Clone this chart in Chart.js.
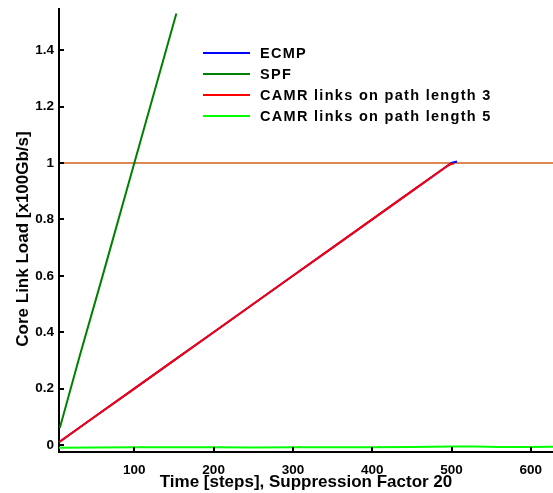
<!DOCTYPE html>
<html>
<head>
<meta charset="utf-8">
<script src="https://cdn.jsdelivr.net/npm/chart.js@4.4.1/dist/chart.umd.min.js"></script>
<style>
html, body { margin: 0; padding: 0; background: #fff; }
</style>
</head>
<body>
<canvas id="myChart" width="553" height="493"></canvas>
<script>
// tick values / labels
var xTicks = [100, 200, 300, 400, 500, 600];
var yTicks = [0, 0.2, 0.4, 0.6, 0.8, 1, 1.2, 1.4];
var yTickLabels = ['0', '0.2', '0.4', '0.6', '0.8', '1', '1.2', '1.4'];

// series
var ecmpX = [5, 50, 100, 150, 200, 250, 300, 350, 400, 450, 495, 500, 507];
var ecmpY = [0.01, 0.1, 0.2, 0.3, 0.4, 0.5, 0.6, 0.7, 0.8, 0.9, 0.99, 1.0, 1.005];

var spfX = [6, 31, 59, 100, 153];
var spfY = [0.06, 0.315, 0.59, 1.0, 1.53];

var camr3X = [5, 50, 100, 150, 200, 250, 300, 350, 400, 450, 495, 500, 503];
var camr3Y = [0.01, 0.1, 0.2, 0.3, 0.4, 0.5, 0.6, 0.7, 0.8, 0.9, 0.99, 0.997, 0.997];

var camr5X = [5, 50, 100, 150, 200, 250, 300, 350, 400, 450, 500, 530, 560, 600, 628];
var camr5Y = [-0.010, -0.009, -0.008, -0.008, -0.008, -0.009, -0.008, -0.008, -0.008, -0.007, -0.005, -0.005, -0.007, -0.007, -0.006];

var limitX = [5, 628];
var limitY = [1, 1];

var legendLabels = ['ECMP', 'SPF', 'CAMR links on path length 3', 'CAMR links on path length 5'];
var yTitle = 'Core Link Load [x100Gb/s]';
var xTitle = 'Time [steps], Suppression Factor 20';

function toPoints(xs, ys) {
	var pts = [];
	for (var i = 0; i < xs.length; i++) {
		pts.push({ x: xs[i], y: ys[i] });
	}
	return pts;
}

function makeDataset(label, xs, ys, color, order) {
	return {
		label: label,
		data: toPoints(xs, ys),
		borderColor: color,
		backgroundColor: color,
		borderWidth: 2,
		pointRadius: 0,
		tension: 0,
		fill: false,
		order: order
	};
}

// ticks pointing into the plot, like the original
var innerTicks = {
	id: 'innerTicks',
	afterDatasetsDraw: function (chart) {
		var ctx = chart.ctx;
		var xs = chart.scales.x;
		var ys = chart.scales.y;
		var area = chart.chartArea;
		ctx.save();
		ctx.strokeStyle = '#000';
		ctx.lineWidth = 2;
		ctx.beginPath();
		for (var i = 0; i < xs.ticks.length; i++) {
			var px = Math.round(xs.getPixelForValue(xs.ticks[i].value));
			ctx.moveTo(px, area.bottom);
			ctx.lineTo(px, area.bottom - 5);
		}
		for (var j = 0; j < ys.ticks.length; j++) {
			var py = Math.round(ys.getPixelForValue(ys.ticks[j].value));
			ctx.moveTo(area.left, py);
			ctx.lineTo(area.left + 5, py);
		}
		ctx.stroke();
		ctx.restore();
	}
};

// legend inside the plot area + rotated y title
var insideLegend = {
	id: 'insideLegend',
	afterDraw: function (chart) {
		var ctx = chart.ctx;
		ctx.save();
		ctx.font = 'bold 14.5px "Liberation Sans", Arial, sans-serif';
		ctx.letterSpacing = '1.3px';
		ctx.textBaseline = 'middle';
		ctx.fillStyle = '#000';
		var rowY = 53;
		for (var i = 0; i < legendLabels.length; i++) {
			var ds = chart.data.datasets[i];
			ctx.strokeStyle = ds.borderColor;
			ctx.lineWidth = 2;
			ctx.beginPath();
			ctx.moveTo(203, rowY);
			ctx.lineTo(250, rowY);
			ctx.stroke();
			ctx.fillText(legendLabels[i], 260, rowY + 1);
			rowY += 21;
		}
		ctx.restore();

		ctx.save();
		ctx.font = 'bold 17px "Liberation Sans", Arial, sans-serif';
		ctx.fillStyle = '#000';
		ctx.textAlign = 'center';
		ctx.textBaseline = 'middle';
		ctx.translate(23, 239);
		ctx.rotate(-Math.PI / 2);
		ctx.fillText(yTitle, 0, 0);
		ctx.restore();
	}
};

var tickFont = { family: '"Liberation Sans", Arial, sans-serif', size: 13.5, weight: 'bold' };
var titleFont = { family: '"Liberation Sans", Arial, sans-serif', size: 17, weight: 'bold' };

var myChart = new Chart(document.getElementById('myChart').getContext('2d'), {
	type: 'line',
	data: {
		datasets: [
			makeDataset(legendLabels[0], ecmpX, ecmpY, '#0000ff', 2),
			makeDataset(legendLabels[1], spfX, spfY, '#008000', 3),
			makeDataset(legendLabels[2], camr3X, camr3Y, '#ff0000', 1),
			makeDataset(legendLabels[3], camr5X, camr5Y, '#00ff00', 4),
			makeDataset('', limitX, limitY, '#dc8850', 5)
		]
	},
	options: {
		responsive: false,
		animation: false,
		layout: { padding: { top: 9, right: 0, left: 0, bottom: 0 } },
		plugins: {
			legend: { display: false },
			tooltip: { enabled: false }
		},
		scales: {
			x: {
				type: 'linear',
				min: 5,
				max: 628,
				grid: { display: false, drawTicks: false },
				border: { display: true, color: '#000', width: 2 },
				afterBuildTicks: function (s) {
					s.ticks = xTicks.map(function (v) { return { value: v }; });
				},
				afterFit: function (s) {
					s.height = 41;
					s.paddingLeft = 0;
					s.paddingRight = 0;
				},
				ticks: {
					color: '#000',
					font: tickFont,
					padding: 10,
					maxRotation: 0,
					callback: function (v) { return String(v); }
				},
				title: {
					display: true,
					text: xTitle,
					color: '#000',
					font: titleFont,
					padding: { top: 0, bottom: 0 }
				}
			},
			y: {
				type: 'linear',
				min: -0.0248,
				max: 1.546,
				grid: { display: false, drawTicks: false },
				border: { display: true, color: '#000', width: 2 },
				afterBuildTicks: function (s) {
					s.ticks = yTicks.map(function (v) { return { value: v }; });
				},
				afterFit: function (s) {
					s.width = 59;
					s.paddingTop = 0;
					s.paddingBottom = 0;
				},
				ticks: {
					color: '#000',
					font: tickFont,
					padding: 5,
					callback: function (v, i) { return yTickLabels[i]; }
				}
			}
		}
	},
	plugins: [innerTicks, insideLegend]
});
</script>
</body>
</html>
